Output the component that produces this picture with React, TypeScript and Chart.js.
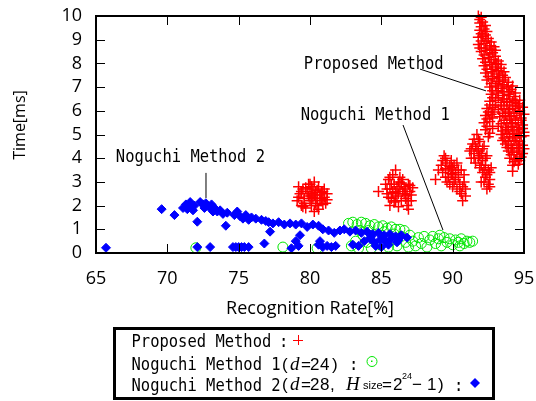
import { useEffect, useRef } from "react";
import { Chart, registerables } from "chart.js";
Chart.register(...registerables);

type P = [number, number];

const xTickValues = [65, 70, 75, 80, 85, 90, 95];
const yTickValues = [0, 1, 2, 3, 4, 5, 6, 7, 8, 9, 10];

const proposedMethod: P[] = [
  // cluster near 80
  [79.1, 2.2], [79.3, 2.5], [79.4, 2.0], [79.5, 2.7], [79.6, 2.3], [79.7, 1.9], [79.8, 2.6], [79.9, 2.9],
  [80.0, 2.2], [80.0, 2.5], [80.1, 2.0], [80.2, 2.7], [80.2, 2.35], [80.3, 3.0], [80.4, 2.1], [80.4, 2.55],
  [80.5, 2.3], [80.6, 2.8], [80.6, 1.85], [80.7, 2.45], [80.8, 2.2], [80.9, 2.6], [81.0, 2.35], [81.1, 2.1],
  [81.2, 2.5], [79.2, 2.8], [80.3, 1.75],
  [79.2, 2.35], [79.4, 2.6], [79.6, 2.1], [79.7, 2.75], [79.9, 2.4], [80.1, 2.3], [80.1, 2.8], [80.3, 2.45],
  [80.5, 2.65], [80.5, 2.0], [80.7, 2.3], [80.8, 2.55], [80.9, 2.05], [81.0, 2.7], [81.2, 2.25], [79.5, 1.95],
  [80.0, 2.9],
  // cluster near 86
  [84.8, 2.6], [85.3, 2.9], [85.4, 2.5], [85.5, 3.1], [85.6, 2.7], [85.7, 2.3], [85.8, 3.3], [85.9, 2.9],
  [85.9, 2.15], [86.0, 3.5], [86.0, 2.6], [86.1, 2.4], [86.2, 3.0], [86.3, 2.7], [86.4, 2.2], [86.5, 3.1],
  [86.6, 2.5], [86.6, 2.8], [86.7, 2.3], [86.8, 2.0], [86.9, 2.9], [87.0, 2.6], [87.1, 2.2], [87.2, 2.75],
  [85.6, 2.0], [86.3, 3.2],
  [85.4, 2.7], [85.5, 2.35], [85.7, 2.9], [85.8, 2.55], [86.0, 2.2], [86.1, 2.8], [86.2, 2.5], [86.4, 2.95],
  [86.5, 2.6], [86.7, 2.7], [86.8, 2.45], [86.9, 2.2], [87.0, 2.85], [87.1, 2.45], [85.6, 3.2], [86.2, 1.95],
  [86.9, 1.85],
  // cluster near 90
  [88.8, 3.1], [89.2, 3.7], [89.3, 3.4], [89.4, 4.1], [89.5, 3.2], [89.6, 3.8], [89.7, 3.5], [89.8, 2.9],
  [89.9, 3.9], [90.0, 3.3], [90.0, 3.6], [90.1, 3.0], [90.2, 3.4], [90.3, 2.7], [90.4, 3.2], [90.5, 2.9],
  [90.6, 3.5], [90.6, 2.5], [90.7, 2.2], [90.8, 3.0], [90.9, 2.7], [89.6, 3.0], [89.0, 3.5], [90.3, 3.8],
  [89.3, 3.9], [89.5, 3.55], [89.7, 3.2], [89.8, 3.65], [89.9, 3.35], [90.1, 3.7], [90.2, 3.1], [90.4, 3.5],
  [90.5, 2.6], [90.7, 2.8], [90.8, 3.3], [89.5, 4.0], [90.0, 2.8], [90.9, 2.4],
  // cluster near 92
  [91.2, 4.3], [91.3, 4.0], [91.4, 4.6], [91.5, 4.2], [91.6, 3.8], [91.7, 5.0], [91.7, 4.4], [91.8, 4.0],
  [91.9, 3.6], [91.9, 4.7], [92.0, 4.2], [92.1, 3.4], [92.1, 3.9], [92.2, 4.5], [92.3, 3.2], [92.3, 3.7],
  [92.4, 4.1], [92.5, 2.9], [92.5, 3.5], [92.6, 3.1], [92.7, 3.6], [92.4, 2.7], [91.5, 4.8], [92.0, 3.0],
  [91.3, 4.4], [91.5, 4.0], [91.6, 4.5], [91.8, 4.3], [91.8, 4.8], [92.0, 3.7], [92.1, 4.4], [92.2, 3.5],
  [92.3, 4.0], [92.4, 3.3], [92.6, 3.4], [92.6, 2.8], [91.9, 4.1], [92.2, 3.0],
  // main band
  [91.8, 10.0], [92.0, 9.95], [91.9, 9.7], [92.1, 9.75], [91.9, 9.4], [92.2, 9.45], [92.4, 9.35],
  [91.8, 9.1], [92.1, 9.15], [92.5, 9.05], [91.8, 8.8], [92.2, 8.85], [92.6, 8.75], [92.9, 8.7],
  [92.0, 8.5], [92.4, 8.55], [92.8, 8.45], [92.1, 8.2], [92.5, 8.25], [92.9, 8.15], [93.2, 8.1],
  [92.2, 7.9], [92.6, 7.95], [93.0, 7.85], [93.4, 7.8], [92.3, 7.6], [92.7, 7.65], [93.1, 7.55], [93.5, 7.5],
  [92.4, 7.3], [92.8, 7.35], [93.2, 7.25], [93.6, 7.3], [93.9, 7.2],
  [92.6, 7.0], [93.0, 7.05], [93.4, 6.95], [93.8, 7.0], [94.1, 6.9],
  [92.7, 6.7], [93.1, 6.75], [93.5, 6.65], [93.9, 6.7], [94.3, 6.6],
  [92.6, 6.4], [93.0, 6.45], [93.4, 6.35], [93.8, 6.4], [94.2, 6.35], [94.5, 6.3],
  [92.4, 6.1], [92.8, 6.15], [93.2, 6.05], [93.6, 6.1], [94.0, 6.05], [94.4, 6.1], [94.7, 6.0],
  [92.3, 5.8], [92.7, 5.85], [93.3, 5.75], [93.7, 5.8], [94.1, 5.75], [94.5, 5.8], [94.8, 5.7],
  [92.2, 5.5], [92.6, 5.55], [93.4, 5.45], [93.8, 5.5], [94.2, 5.45], [94.6, 5.5], [94.9, 5.4],
  [92.3, 5.2], [92.8, 5.25], [93.5, 5.15], [93.9, 5.2], [94.3, 5.15], [94.7, 5.2], [95.0, 5.1],
  [92.5, 4.9], [93.6, 4.85], [94.0, 4.9], [94.4, 4.85], [94.8, 4.9],
  [93.7, 4.6], [94.1, 4.55], [94.5, 4.6], [94.9, 4.55],
  [93.9, 4.3], [94.3, 4.25], [94.7, 4.3], [94.0, 4.0], [94.4, 3.95], [94.8, 4.05],
  [94.2, 3.7], [94.6, 3.75], [94.2, 3.45],
  [91.9, 9.85], [92.0, 9.55], [92.3, 9.6], [92.0, 9.25], [92.3, 9.2], [92.0, 8.95], [92.4, 8.95], [92.7, 8.9],
  [91.9, 8.65], [92.3, 8.65], [92.7, 8.6], [93.0, 8.55], [92.2, 8.35], [92.6, 8.4], [93.0, 8.3],
  [92.3, 8.05], [92.7, 8.05], [93.1, 8.0], [93.4, 7.95], [92.4, 7.75], [92.8, 7.75], [93.2, 7.7], [93.6, 7.65],
  [92.5, 7.45], [92.9, 7.45], [93.3, 7.4], [93.7, 7.4], [92.7, 7.15], [93.1, 7.15], [93.5, 7.1], [93.9, 7.05],
  [94.2, 7.05], [92.8, 6.85], [93.2, 6.85], [93.6, 6.8], [94.0, 6.8], [94.4, 6.75],
  [92.8, 6.55], [93.2, 6.55], [93.6, 6.5], [94.0, 6.5], [94.4, 6.45], [94.7, 6.45],
  [92.6, 6.25], [93.0, 6.25], [93.4, 6.2], [93.8, 6.25], [94.2, 6.2], [94.6, 6.2], [94.9, 6.15],
  [92.5, 5.95], [92.9, 5.95], [93.5, 5.9], [93.9, 5.95], [94.3, 5.9], [94.7, 5.9], [95.0, 5.85],
  [92.4, 5.65], [92.8, 5.7], [93.6, 5.6], [94.0, 5.65], [94.4, 5.6], [94.8, 5.6],
  [92.4, 5.35], [93.2, 5.35], [93.7, 5.3], [94.1, 5.35], [94.5, 5.3], [94.9, 5.25],
  [92.6, 5.05], [93.4, 5.0], [93.8, 5.05], [94.2, 5.0], [94.6, 5.05], [95.0, 4.95],
  [93.5, 4.75], [93.9, 4.7], [94.3, 4.75], [94.7, 4.7], [93.8, 4.45], [94.2, 4.4], [94.6, 4.45], [95.0, 4.4],
  [94.1, 4.15], [94.5, 4.15], [94.9, 4.2], [94.3, 3.85], [94.7, 3.9],
];

const noguchiMethod1: P[] = [
  [72.0, 0.22], [78.1, 0.25], [80.5, 0.2],
  [82.7, 1.25], [83.0, 1.3], [83.3, 1.2], [83.6, 1.3], [83.9, 1.25], [84.2, 1.15], [84.5, 1.2], [84.8, 1.1],
  [85.1, 1.15], [85.4, 1.05], [85.7, 1.1], [86.0, 1.0], [86.3, 1.0], [86.6, 0.95],
  [82.9, 0.3], [83.2, 0.5], [83.4, 0.2], [83.7, 0.75], [84.0, 0.45], [84.3, 0.2], [84.6, 0.6], [84.9, 0.35],
  [85.2, 0.9], [85.5, 0.25], [85.8, 0.55], [86.1, 0.3], [86.4, 0.7], [86.7, 0.45],
  [87.0, 0.75], [87.2, 0.5], [87.4, 0.3], [87.6, 0.65], [87.8, 0.4], [88.0, 0.7], [88.2, 0.25], [88.4, 0.55],
  [88.6, 0.7], [88.8, 0.4], [89.0, 0.6], [89.2, 0.3], [89.4, 0.65], [89.6, 0.45], [89.8, 0.6], [90.0, 0.35],
  [90.2, 0.55], [90.4, 0.45], [90.6, 0.6], [90.8, 0.4], [91.0, 0.5], [91.2, 0.45], [91.4, 0.5], [90.5, 0.3],
  [89.1, 0.75], [86.9, 0.25], [85.9, 0.8], [84.1, 0.95], [83.5, 0.95],
];

const noguchiMethod2: P[] = [
  [65.7, 0.22], [69.6, 1.85], [70.5, 1.6],
  [71.1, 1.9], [71.3, 2.05], [71.4, 1.85], [71.6, 2.15], [71.7, 1.95], [71.9, 2.0], [71.8, 1.8],
  [72.1, 1.32], [72.1, 0.25], [73.0, 0.25],
  [72.3, 2.15], [72.5, 2.05], [72.7, 2.1], [72.9, 1.95], [73.1, 2.05], [73.3, 1.9], [73.5, 1.75], [73.7, 1.8],
  [73.9, 1.65], [74.2, 1.7], [72.6, 1.9], [73.2, 1.75],
  [74.1, 1.15],
  [74.7, 1.6], [74.9, 1.75], [75.1, 1.55], [75.3, 1.45], [75.5, 1.6], [75.7, 1.4], [75.9, 1.5], [76.2, 1.45],
  [76.6, 1.4], [76.9, 1.35],
  [74.6, 0.25], [74.8, 0.25], [75.0, 0.25], [75.2, 0.25], [75.4, 0.25], [75.7, 0.25],
  [77.1, 1.3], [77.4, 1.25], [77.8, 1.3], [78.2, 1.2], [78.6, 1.25], [79.0, 1.2], [79.4, 1.25], [79.8, 1.1],
  [80.2, 1.2], [80.6, 1.15], [80.9, 1.0],
  [77.2, 0.9], [76.8, 0.4], [78.7, 0.2], [79.0, 0.5], [79.3, 0.75], [79.2, 0.3],
  [80.6, 0.35], [80.9, 0.25], [81.2, 0.3], [81.5, 0.25], [81.8, 0.3], [80.7, 0.5],
  [81.3, 0.95], [81.7, 0.85], [82.1, 0.95], [82.4, 1.0], [82.8, 0.9], [83.2, 0.95], [83.6, 0.85], [84.0, 0.9],
  [84.4, 0.8], [84.8, 0.85], [85.2, 0.75], [85.6, 0.8], [86.0, 0.7], [86.4, 0.75], [86.8, 0.65],
  [83.0, 0.35], [83.4, 0.3],
  [83.8, 0.5], [84.2, 0.6], [84.5, 0.45], [84.9, 0.55], [85.3, 0.5], [85.7, 0.6], [86.1, 0.45], [84.6, 0.3],
  [85.0, 0.25], [85.5, 0.35], [86.2, 0.55], [85.1, 0.65], [84.3, 0.7],
];

const annotationLabels = [
  { text: "Proposed Method", tx: 79.57, ty: 7.78, x1: 87.71, y1: 7.76, x2: 92.34, y2: 6.84 },
  { text: "Noguchi Method 1", tx: 79.35, ty: 5.63, x1: 86.52, y1: 5.4, x2: 89.32, y2: 0.97 },
  { text: "Noguchi Method 2", tx: 66.39, ty: 3.86, x1: 72.71, y1: 3.38, x2: 72.71, y2: 2.32 },
];

const RED = "#ff0000";
const GREEN = "#00e600";
const BLUE = "#0000ff";
const MONO = "18px 'DejaVu Sans Mono'";
const SANS = "17px 'Liberation Sans'";
const SERIF_I = "italic 19px 'Liberation Serif'";

function monoText(ctx: CanvasRenderingContext2D, s: string, x: number, y: number) {
  ctx.save();
  ctx.font = MONO;
  ctx.textAlign = "left";
  ctx.textBaseline = "alphabetic";
  ctx.translate(x, y);
  ctx.scale(0.86, 1);
  ctx.fillText(s, 0, 0);
  ctx.restore();
}

function plainText(ctx: CanvasRenderingContext2D, font: string, s: string, x: number, y: number) {
  ctx.save();
  ctx.font = font;
  ctx.textAlign = "left";
  ctx.textBaseline = "alphabetic";
  ctx.fillText(s, x, y);
  ctx.restore();
}

const framePlugin = {
  id: "frameTicks",
  afterDatasetsDraw(chart: any) {
    const ctx: CanvasRenderingContext2D = chart.ctx;
    const { left, right, top, bottom } = chart.chartArea;
    const xs = chart.scales.x;
    const ys = chart.scales.y;
    ctx.save();
    ctx.strokeStyle = "#000";
    ctx.lineWidth = 1;
    const L = 9;
    ctx.beginPath();
    xs.ticks.forEach((t: any) => {
      const p = Math.round(xs.getPixelForValue(t.value)) + 0.5;
      ctx.moveTo(p, bottom);
      ctx.lineTo(p, bottom - L);
      ctx.moveTo(p, top);
      ctx.lineTo(p, top + L);
    });
    ys.ticks.forEach((t: any) => {
      const p = Math.round(ys.getPixelForValue(t.value)) + 0.5;
      ctx.moveTo(left, p);
      ctx.lineTo(left + L, p);
      ctx.moveTo(right, p);
      ctx.lineTo(right - L, p);
    });
    ctx.stroke();
    ctx.lineWidth = 2;
    ctx.strokeRect(left, top, right - left, bottom - top);

    // annotations
    ctx.fillStyle = "#000";
    ctx.lineWidth = 1;
    annotationLabels.forEach((a) => {
      monoText(ctx, a.text, xs.getPixelForValue(a.tx), ys.getPixelForValue(a.ty));
      ctx.beginPath();
      ctx.moveTo(xs.getPixelForValue(a.x1), ys.getPixelForValue(a.y1));
      ctx.lineTo(xs.getPixelForValue(a.x2), ys.getPixelForValue(a.y2));
      ctx.stroke();
    });

    // y axis title
    ctx.save();
    ctx.translate(20, 125);
    ctx.rotate(-Math.PI / 2);
    ctx.font = "16px 'Open Sans'";
    ctx.textAlign = "center";
    ctx.textBaseline = "middle";
    ctx.fillText("Time[ms]", 0, 0);
    ctx.restore();
    ctx.restore();
  },
  afterDraw(chart: any) {
    const ctx: CanvasRenderingContext2D = chart.ctx;
    ctx.save();
    ctx.strokeStyle = "#000";
    ctx.fillStyle = "#000";
    ctx.lineWidth = 3;
    ctx.strokeRect(114.5, 328.5, 379, 70);

    const b1 = 346.5, b2 = 369.5, b3 = 390.5;
    // line 1
    monoText(ctx, "Proposed Method", 131.5, b1);
    monoText(ctx, ":", 279, b1);
    ctx.strokeStyle = RED;
    ctx.lineWidth = 1;
    ctx.beginPath();
    ctx.moveTo(293, 340.5); ctx.lineTo(303, 340.5);
    ctx.moveTo(298.5, 335); ctx.lineTo(298.5, 345);
    ctx.stroke();

    // line 2
    monoText(ctx, "Noguchi Method 1", 131.5, b2);
    plainText(ctx, SANS, "(", 282, b2);
    plainText(ctx, SERIF_I, "d", 290, b2);
    plainText(ctx, SANS, "=", 301, b2);
    plainText(ctx, SANS, "2", 310, b2);
    plainText(ctx, SANS, "4", 320, b2);
    plainText(ctx, SANS, ")", 332, b2);
    monoText(ctx, ":", 349, b2);
    ctx.strokeStyle = GREEN;
    ctx.beginPath();
    ctx.arc(372, 361.5, 5, 0, Math.PI * 2);
    ctx.stroke();
    ctx.fillStyle = GREEN;
    ctx.fillRect(371, 360.5, 1.5, 1.5);
    ctx.fillStyle = "#000";

    // line 3
    monoText(ctx, "Noguchi Method 2", 131.5, b3);
    const m3 = 389.5;
    plainText(ctx, SANS, "(", 282, m3);
    plainText(ctx, SERIF_I, "d", 290, m3);
    plainText(ctx, SANS, "=", 301, m3);
    plainText(ctx, SANS, "2", 310, m3);
    plainText(ctx, SANS, "8", 320, m3);
    plainText(ctx, SANS, ",", 330, m3);
    plainText(ctx, SERIF_I, "H", 346, m3);
    plainText(ctx, "11px 'Liberation Sans'", "size", 363, m3 - 1);
    plainText(ctx, SANS, "=", 382, m3);
    plainText(ctx, SANS, "2", 393, m3);
    plainText(ctx, "9px 'Liberation Sans'", "24", 402, m3 - 11);
    plainText(ctx, SANS, "\u2212", 412, m3);
    plainText(ctx, SANS, "1", 427, m3);
    plainText(ctx, SANS, ")", 438, m3);
    monoText(ctx, ":", 454, b3);
    ctx.fillStyle = BLUE;
    ctx.beginPath();
    ctx.moveTo(475, 378); ctx.lineTo(480, 383); ctx.lineTo(475, 388); ctx.lineTo(470, 383);
    ctx.closePath();
    ctx.fill();
    ctx.restore();
  },
};

export default function App() {
  const ref = useRef<HTMLCanvasElement | null>(null);
  useEffect(() => {
    document.body.style.margin = "0";
    if (!ref.current) return;
    const toXY = (arr: P[]) => arr.map(([x, y]) => ({ x, y }));
    const chart = new Chart(ref.current, {
      type: "scatter",
      data: {
        datasets: [
          {
            label: "Proposed Method",
            data: toXY(proposedMethod),
            pointStyle: "cross",
            pointRadius: 5.5,
            borderColor: RED,
            backgroundColor: RED,
            borderWidth: 1.5,
            order: 3,
            clip: false,
          } as any,
          {
            label: "Noguchi Method 1",
            data: toXY(noguchiMethod1),
            pointStyle: "circle",
            pointRadius: 5,
            borderColor: GREEN,
            backgroundColor: "rgba(0,0,0,0)",
            borderWidth: 1,
            order: 2,
            clip: false,
          },
          {
            label: "Noguchi Method 2",
            data: toXY(noguchiMethod2),
            pointStyle: "rectRot",
            pointRadius: 4.5,
            borderColor: BLUE,
            backgroundColor: BLUE,
            borderWidth: 1,
            order: 1,
            clip: false,
          },
        ],
      },
      options: {
        animation: false,
        responsive: false,
        devicePixelRatio: 1,
        events: [],
        layout: { padding: { left: 0, right: 12, top: 16, bottom: 81 } },
        plugins: { legend: { display: false }, tooltip: { enabled: false } },
        scales: {
          x: {
            type: "linear",
            min: 65,
            max: 95,
            afterBuildTicks: (s: any) => {
              s.ticks = xTickValues.map((v) => ({ value: v }));
            },
            afterFit: (s: any) => {
              s.height = 67;
              s.paddingLeft = 0;
              s.paddingRight = 0;
            },
            ticks: {
              color: "#000",
              font: { family: "'Open Sans'", size: 18 },
              padding: 15,
              maxRotation: 0,
              autoSkip: false,
            },
            grid: { display: false, drawTicks: false },
            border: { display: false },
            title: {
              display: true,
              text: "Recognition Rate[%]",
              color: "#000",
              font: { family: "'Open Sans'", size: 18 },
              padding: { top: 0, bottom: 0 },
            },
          },
          y: {
            type: "linear",
            min: 0,
            max: 10,
            afterBuildTicks: (s: any) => {
              s.ticks = yTickValues.map((v) => ({ value: v }));
            },
            afterFit: (s: any) => {
              s.width = 96;
              s.paddingTop = 0;
              s.paddingBottom = 0;
            },
            ticks: { color: "#000", font: { family: "'Open Sans'", size: 18 }, padding: 14, autoSkip: false },
            grid: { display: false, drawTicks: false },
            border: { display: false },
          },
        },
      },
      plugins: [framePlugin],
    });
    return () => chart.destroy();
  }, []);
  return (
    <div style={{ width: 536, height: 401 }}>
      <canvas ref={ref} width={536} height={401} style={{ display: "block" }} />
    </div>
  );
}
